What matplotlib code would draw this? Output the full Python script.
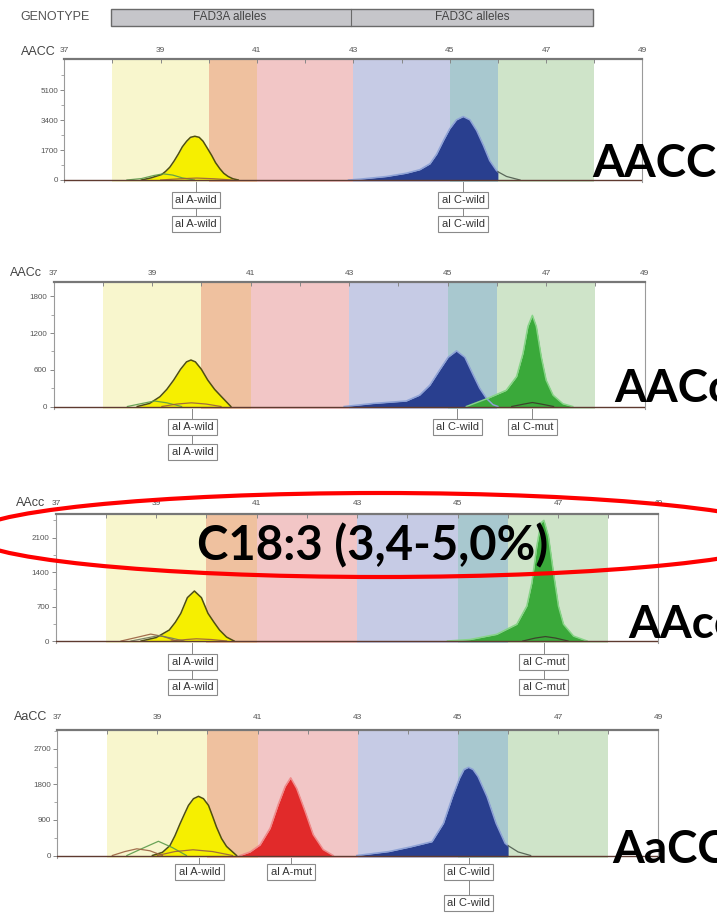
import matplotlib
matplotlib.use("Agg")
import matplotlib.pyplot as plt
import matplotlib.transforms as mtrans
from matplotlib.patches import Rectangle, Ellipse
from matplotlib.ticker import MultipleLocator, FixedLocator

plt.rcParams['font.family'] = ['Liberation Sans Narrow', 'Liberation Sans', 'DejaVu Sans']

# ---------------- data ----------------
GENOTYPES = ['AACC', 'AACc', 'AAcc', 'AaCC']
HEADER_TITLE = 'GENOTYPE'
HEADER_GROUPS = ['FAD3A alleles', 'FAD3C alleles']
XTICKS = [37, 39, 41, 43, 45, 47, 49]
BAND_LO = [38, 40, 41, 43, 45, 46]
BAND_HI = [40, 41, 43, 45, 46, 48]
BASE_X = [37, 49]
BASE_Y = [0, 0]

YTICKS = [[0, 1700, 3400, 5100],
          [0, 600, 1200, 1800],
          [0, 700, 1400, 2100],
          [0, 900, 1800, 2700]]

# Panel 1 : AACC
P1_YEL_X = [38.6, 38.8, 39.02, 39.1, 39.19, 39.28, 39.37, 39.45, 39.54, 39.62, 39.71, 39.8, 39.88, 39.97,
            40.06, 40.14, 40.23, 40.31, 40.4, 40.5, 40.61]
P1_YEL_Y = [0, 120, 310, 480, 725, 1080, 1485, 1880, 2200, 2420, 2480, 2420, 2200, 1800,
            1390, 980, 635, 380, 200, 70, 0]
P1_GRN_X = [38.3, 38.6, 38.85, 39.05, 39.25, 39.45, 39.7]
P1_GRN_Y = [0, 80, 250, 350, 280, 120, 0]
P1_BRN_X = [39.0, 39.4, 39.75, 40.1, 40.5]
P1_BRN_Y = [0, 70, 110, 70, 0]
P1_BLU_X = [42.9, 43.14, 43.69, 44.1, 44.38, 44.59, 44.73, 44.87, 45.0, 45.14, 45.28, 45.42, 45.56,
            45.7, 45.83, 45.97, 46.0]
P1_BLU_Y = [0, 50, 200, 385, 585, 920, 1470, 2240, 2900, 3410, 3600, 3410, 2800,
            1960, 1100, 540, 470]
P1_TAIL_X = [46.0, 46.18, 46.46]
P1_TAIL_Y = [470, 200, 0]

# Panel 2 : AACc
P2_YEL_X = [38.7, 38.95, 39.16, 39.3, 39.44, 39.58, 39.7, 39.79, 39.88, 40.0, 40.13, 40.27, 40.41, 40.6]
P2_YEL_Y = [0, 50, 160, 280, 433, 610, 730, 760, 730, 610, 433, 280, 160, 0]
P2_GRNH_X = [38.5, 38.8, 39.05, 39.3, 39.6]
P2_GRNH_Y = [0, 50, 90, 60, 0]
P2_BRN_X = [39.2, 39.5, 39.8, 40.1, 40.4]
P2_BRN_Y = [0, 40, 60, 40, 0]
P2_BLU_X = [42.9, 43.49, 44.16, 44.43, 44.64, 44.84, 45.01, 45.18, 45.35, 45.52, 45.65, 45.79, 45.92, 46.02]
P2_BLU_Y = [0, 50, 90, 185, 350, 600, 805, 910, 805, 515, 300, 130, 30, 0]
P2_GRN_X = [45.38, 45.79, 46.19, 46.40, 46.53, 46.63, 46.72, 46.80, 46.90, 47.0, 47.14, 47.34, 47.54]
P2_GRN_Y = [0, 125, 265, 490, 870, 1310, 1490, 1310, 815, 430, 185, 45, 0]
P2_BRN2_X = [46.3, 46.55, 46.72, 46.9, 47.15]
P2_BRN2_Y = [0, 40, 65, 40, 0]

# Panel 3 : AAcc
P3_YEL_X = [38.7, 39.0, 39.26, 39.38, 39.49, 39.62, 39.76, 39.9, 40.03, 40.15, 40.26, 40.4, 40.55]
P3_YEL_Y = [0, 70, 223, 380, 562, 880, 1015, 880, 562, 380, 223, 80, 0]
P3_BRN_X = [38.3, 38.6, 38.89, 39.15, 39.4]
P3_BRN_Y = [0, 70, 140, 90, 0]
P3_GRNH_X = [38.5, 38.8, 39.05, 39.3, 39.55]
P3_GRNH_Y = [0, 60, 110, 60, 0]
P3_BRN2_X = [39.3, 39.6, 39.8, 40.1, 40.4]
P3_BRN2_Y = [0, 30, 45, 30, 0]
P3_GRN_X = [44.8, 45.25, 45.78, 46.18, 46.38, 46.48, 46.58, 46.66, 46.72, 46.81, 46.91, 47.01, 47.11,
            47.31, 47.58]
P3_GRN_Y = [0, 30, 135, 340, 710, 1180, 1930, 2400, 2450, 2130, 1390, 710, 340, 100, 0]
P3_BRN3_X = [46.3, 46.55, 46.75, 46.95, 47.2]
P3_BRN3_Y = [0, 60, 90, 60, 0]

# Panel 4 : AaCC
P4_YEL_X = [38.9, 39.1, 39.25, 39.35, 39.45, 39.55, 39.62, 39.72, 39.82, 39.92, 40.02, 40.1, 40.18,
            40.28, 40.38, 40.58]
P4_YEL_Y = [0, 80, 250, 500, 800, 1080, 1270, 1440, 1500, 1440, 1270, 1000, 720, 430, 230, 0]
P4_RED_X = [40.65, 40.85, 41.05, 41.25, 41.41, 41.55, 41.66, 41.78, 41.95, 42.11, 42.31, 42.51]
P4_RED_Y = [0, 90, 270, 690, 1285, 1750, 1970, 1700, 1115, 530, 150, 0]
P4_BLU_X = [42.98, 43.62, 44.07, 44.48, 44.71, 44.89, 45.03, 45.12, 45.21, 45.30, 45.40, 45.58, 45.76,
            45.94, 46.0]
P4_BLU_Y = [0, 100, 223, 350, 816, 1490, 1957, 2180, 2236, 2180, 2000, 1490, 816, 310, 250]
P4_TAIL_X = [46.0, 46.2, 46.45]
P4_TAIL_Y = [250, 90, 0]
P4_GRNH_X = [38.39, 38.7, 39.02, 39.3, 39.58]
P4_GRNH_Y = [0, 180, 360, 200, 0]
P4_BRN_X = [38.1, 38.35, 38.59, 38.85, 39.1]
P4_BRN_Y = [0, 100, 170, 120, 0]
P4_BRN2_X = [39.0, 39.35, 39.71, 40.1, 40.5]
P4_BRN2_Y = [0, 100, 145, 100, 0]

# allele call labels (x position, text, row)
P1_LAB_X = [39.73, 39.73, 45.28, 45.28]
P1_LAB_T = ['al A-wild', 'al A-wild', 'al C-wild', 'al C-wild']
P1_LAB_R = [0, 1, 0, 1]
P2_LAB_X = [39.82, 39.82, 45.2, 46.72]
P2_LAB_T = ['al A-wild', 'al A-wild', 'al C-wild', 'al C-mut']
P2_LAB_R = [0, 1, 0, 0]
P3_LAB_X = [39.72, 39.72, 46.72, 46.72]
P3_LAB_T = ['al A-wild', 'al A-wild', 'al C-mut', 'al C-mut']
P3_LAB_R = [0, 1, 0, 1]
P4_LAB_X = [39.84, 41.67, 45.21, 45.21]
P4_LAB_T = ['al A-wild', 'al A-mut', 'al C-wild', 'al C-wild']
P4_LAB_R = [0, 0, 0, 1]

ANNOT_TEXT = 'C18:3 (3,4-5,0%)'

# ---------------- styles / layout ----------------
W, H = 717, 913
BAND_COLORS = ['#f8f6cd', '#efc19f', '#f2c6c6', '#c6cbe5', '#a8c8cf', '#cfe4c9']
COL = {
    'yel': ('#f6ef00', '#4f4f12'),
    'blu': ('#293f8f', '#8ea2d6'),
    'grn': ('#3aa93a', '#86d486'),
    'red': ('#e12a2a', '#f08a8a'),
}
HUMP_GREEN = '#5a9a4a'
HUMP_BROWN = '#9a6040'
TAIL_COL = '#4d5a4d'

# axes rect in pixels: left, top, right, zero-line y, bottom
PANEL_PX = [
    (64.3, 59, 642.4, 180.0, 182),
    (53.5, 282, 644.7, 406.5, 409),
    (55.8, 514, 658.4, 641.0, 643),
    (57.2, 730, 658.4, 855.5, 858),
]
COUNTS_PER_PX = [56.7, 16.35, 20.3, 25.35]
XLAB_PAD = [3.7, 3.7, 5.2, 6.5]
NAME_POS = [(20.7, 52), (10, 273), (16, 503), (14, 717)]
ROW_Y = [[200, 224], [427, 452], [662, 687], [872, 903]]
BIG_POS = [(592, 177), (614, 402), (628, 638), (612, 863)]

fig = plt.figure(figsize=(W / 100, H / 100), dpi=100)
fig.patch.set_facecolor('white')


def fx(px):
    return px / W


def fy(py):
    return 1 - py / H


def fill_peak(ax, x, y, key):
    face, edge = COL[key]
    ax.fill_between(x, 0, y, color=face, lw=0, zorder=3)
    ax.plot(x, y, color=edge, lw=1.1, zorder=4, solid_joinstyle='round')


def hump(ax, x, y, color):
    ax.plot(x, y, color=color, lw=0.9, zorder=5, alpha=0.9)


panels = [
    dict(fills=[(P1_YEL_X, P1_YEL_Y, 'yel'), (P1_BLU_X, P1_BLU_Y, 'blu')],
         humps=[(P1_GRN_X, P1_GRN_Y, HUMP_GREEN), (P1_BRN_X, P1_BRN_Y, HUMP_BROWN),
                (P1_TAIL_X, P1_TAIL_Y, TAIL_COL)],
         labels=(P1_LAB_X, P1_LAB_T, P1_LAB_R)),
    dict(fills=[(P2_YEL_X, P2_YEL_Y, 'yel'), (P2_BLU_X, P2_BLU_Y, 'blu'), (P2_GRN_X, P2_GRN_Y, 'grn')],
         humps=[(P2_GRNH_X, P2_GRNH_Y, HUMP_GREEN), (P2_BRN_X, P2_BRN_Y, HUMP_BROWN),
                (P2_BRN2_X, P2_BRN2_Y, '#3a3a2a')],
         labels=(P2_LAB_X, P2_LAB_T, P2_LAB_R)),
    dict(fills=[(P3_YEL_X, P3_YEL_Y, 'yel'), (P3_GRN_X, P3_GRN_Y, 'grn')],
         humps=[(P3_BRN_X, P3_BRN_Y, HUMP_BROWN), (P3_GRNH_X, P3_GRNH_Y, '#707a60'),
                (P3_BRN2_X, P3_BRN2_Y, HUMP_BROWN), (P3_BRN3_X, P3_BRN3_Y, '#3a3a2a')],
         labels=(P3_LAB_X, P3_LAB_T, P3_LAB_R)),
    dict(fills=[(P4_YEL_X, P4_YEL_Y, 'yel'), (P4_RED_X, P4_RED_Y, 'red'), (P4_BLU_X, P4_BLU_Y, 'blu')],
         humps=[(P4_GRNH_X, P4_GRNH_Y, HUMP_GREEN), (P4_BRN_X, P4_BRN_Y, HUMP_BROWN),
                (P4_BRN2_X, P4_BRN2_Y, HUMP_BROWN), (P4_TAIL_X, P4_TAIL_Y, TAIL_COL)],
         labels=(P4_LAB_X, P4_LAB_T, P4_LAB_R)),
]

for i, p in enumerate(panels):
    l, t, r, z, b = PANEL_PX[i]
    ax = fig.add_axes([fx(l), fy(b), (r - l) / W, (b - t) / H])
    cpp = COUNTS_PER_PX[i]
    ax.set_xlim(37, 49)
    ax.set_ylim(-(b - z) * cpp, (z - t) * cpp)
    for lo, hi, c in zip(BAND_LO, BAND_HI, BAND_COLORS):
        ax.axvspan(lo, hi, color=c, lw=0, zorder=0)
    for x, y, key in p['fills']:
        fill_peak(ax, x, y, key)
    for x, y, c in p['humps']:
        hump(ax, x, y, c)
    ax.plot(BASE_X, BASE_Y, color='#5e3a30', lw=1.0, zorder=6)

    ax.xaxis.tick_top()
    ax.set_xticks(XTICKS)
    ax.xaxis.set_minor_locator(MultipleLocator(1))
    ax.tick_params(axis='x', which='both', direction='in', length=3, color='#888', width=0.7,
                   labelsize=6, labelcolor='#555', pad=XLAB_PAD[i])
    yt = YTICKS[i]
    ax.set_yticks(yt)
    step = yt[1] - yt[0]
    ax.yaxis.set_minor_locator(FixedLocator([v + step / 2 for v in yt]))
    ax.tick_params(axis='y', which='major', direction='out', length=3, color='#888', width=0.7,
                   labelsize=5.8, labelcolor='#555', pad=1.5)
    ax.tick_params(axis='y', which='minor', direction='out', length=2, color='#999', width=0.6)
    for s in ('left', 'right'):
        ax.spines[s].set_color('#9a9a9a')
        ax.spines[s].set_linewidth(0.8)
    ax.spines['top'].set_color('#777777')
    ax.spines['top'].set_linewidth(1.6)
    ax.spines['bottom'].set_visible(False)

    # panel name on the left
    nx, ny = NAME_POS[i]
    fig.text(fx(nx), fy(ny), GENOTYPES[i], fontsize=9, color='#444', va='center', ha='left')

    # allele call boxes
    blend = mtrans.blended_transform_factory(ax.transData, fig.transFigure)
    lx, lt, lr = p['labels']
    rows = ROW_Y[i]
    deepest = {}
    for x, rr in zip(lx, lr):
        deepest[x] = max(deepest.get(x, 0), rr)
    for x, rr in deepest.items():
        ax.plot([x, x], [fy(b), fy(rows[rr])], transform=blend, clip_on=False,
                color='#888', lw=0.7, zorder=1)
    for x, txt, rr in zip(lx, lt, lr):
        ax.text(x, fy(rows[rr]), txt, transform=blend, ha='center', va='center', fontsize=8,
                color='#333', clip_on=False, zorder=10,
                bbox=dict(boxstyle='square,pad=0.3', fc='white', ec='#8a8a8a', lw=0.8))

    # big genotype label on the right (cut by the right edge as in the source)
    bx, by = BIG_POS[i]
    fig.text(fx(bx), fy(by), GENOTYPES[i], fontfamily='Lato', fontweight='bold', fontsize=33,
             color='black', ha='left', va='baseline', zorder=20)

# header
fig.text(fx(20), fy(17.5), HEADER_TITLE, fontsize=9, color='#555', va='center', ha='left')
hdr_l, hdr_m, hdr_r, hdr_t, hdr_b = 111, 351, 593, 9, 26
fig.add_artist(Rectangle((fx(hdr_l), fy(hdr_b)), (hdr_r - hdr_l) / W, (hdr_b - hdr_t) / H,
                         transform=fig.transFigure, fc='#c6c6ca', ec='#6a6a6a', lw=1.0))
fig.add_artist(plt.Line2D([fx(hdr_m), fx(hdr_m)], [fy(hdr_b), fy(hdr_t)], transform=fig.transFigure,
                          color='#6a6a6a', lw=0.8))
fig.text(fx(230), fy(17.5), HEADER_GROUPS[0], fontsize=8.5, color='#444', va='center', ha='center')
fig.text(fx(472), fy(17.5), HEADER_GROUPS[1], fontsize=8.5, color='#444', va='center', ha='center')

# red ellipse annotation
fig.add_artist(Ellipse((fx(380), fy(535)), 820 / W, 84 / H, transform=fig.transFigure,
                       fill=False, ec='#ff0000', lw=3, zorder=30))
fig.text(fx(373), fy(560), ANNOT_TEXT, fontfamily='Lato', fontweight='bold', fontsize=34,
         color='black', ha='center', va='baseline', zorder=31)

fig.savefig('out.png', dpi=100)
